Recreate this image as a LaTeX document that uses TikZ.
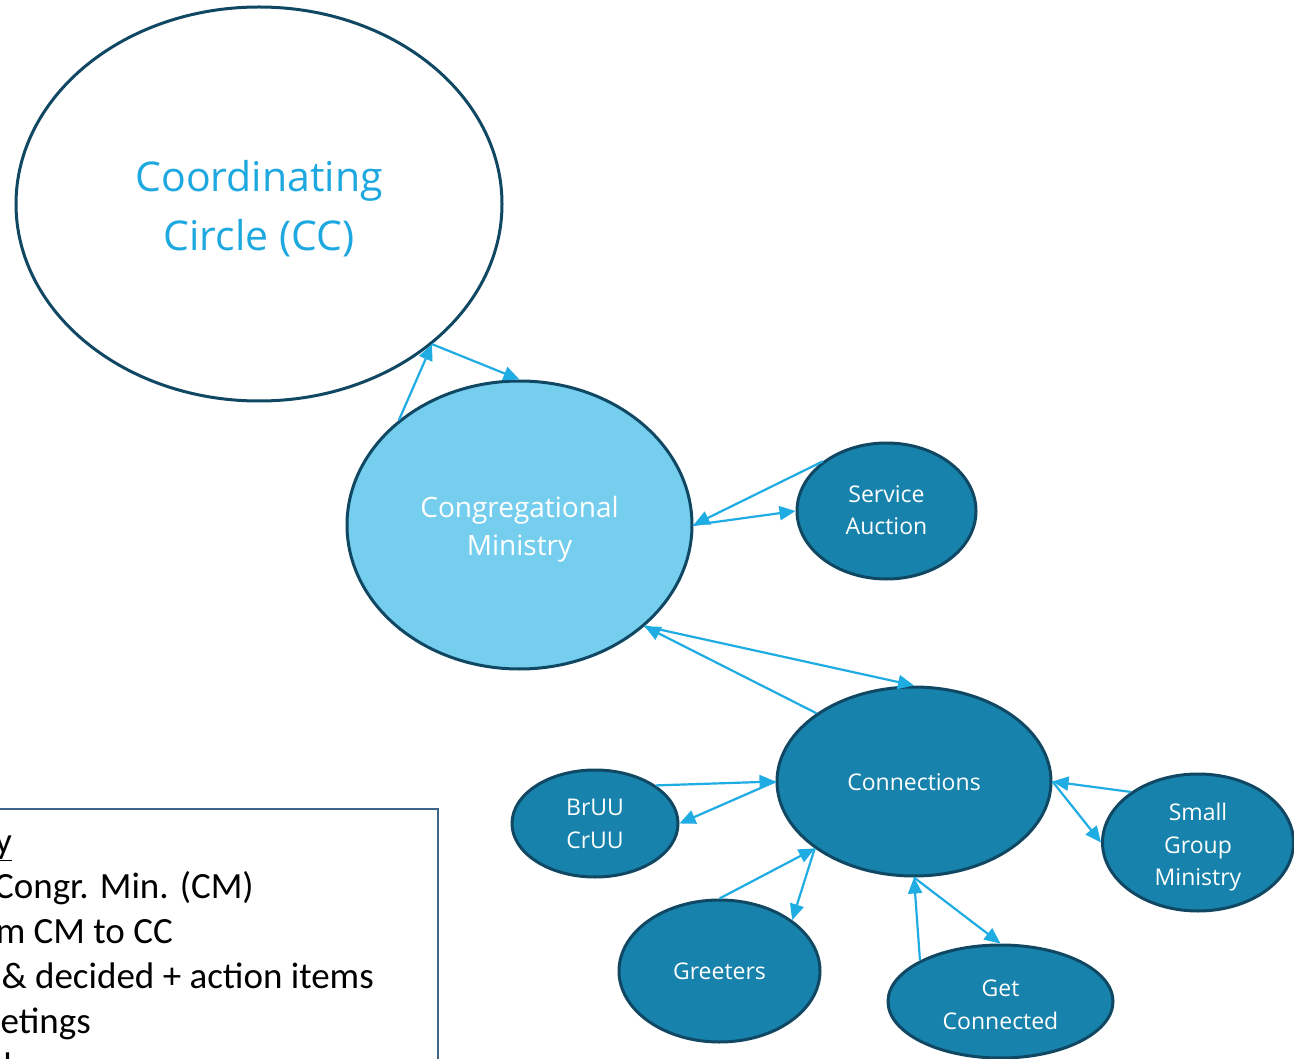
\documentclass[tikz,border=0pt]{standalone}
\usepackage{fontspec}
\setmainfont{Open Sans}
\newfontfamily\boxfont{Carlito}
\usetikzlibrary{shapes.geometric,arrows.meta}
\definecolor{edgec}{RGB}{16,72,100}
\definecolor{lightfill}{RGB}{117,206,238}
\definecolor{darkfill}{RGB}{23,130,172}
\definecolor{arrc}{RGB}{30,172,227}
\definecolor{cctext}{RGB}{30,168,224}
\definecolor{boxc}{RGB}{63,100,133}
% lower the text inside a node by half of #1 (by trimming the box depth)
\newcommand\lowtxt[2]{\raisebox{0pt}[\height][\dimexpr\depth-#1\relax]{\begin{tabular}{@{}c@{}}#2\end{tabular}}}
\begin{document}
\begin{tikzpicture}[x=1pt,y=-1pt,
  bub/.style={ellipse,draw=edgec,line width=3pt,inner sep=0pt,align=center,text=white,fill=darkfill,font=\fontsize{23}{32.5}\selectfont},
  arr/.style={draw=arrc,line width=2.2pt,-{Triangle[length=16pt,width=14pt]}},
  boxtxt/.style={inner sep=0pt,anchor=base east,font=\boxfont\fontsize{37}{44}\selectfont,text=black}]
\useasboundingbox (0,0) rectangle (1294,1059);
\clip (0,0) rectangle (1294,1059);
\fill[white] (0,0) rectangle (1294,1059);

% legend box (cut off by the page)
\draw[boxc,line width=2pt] (-20,809) rectangle (438,1100);
\node[boxtxt] (l1) at (12,853) {\underline{y}};
\node[boxtxt] (l2) at (254,898) {Congr. Min. (CM)};
\node[boxtxt] (l3) at (173,943) {m CM to CC};
\node[boxtxt] (l4) at (374,988) {\& decided + action items};
\node[boxtxt] (l5) at (91,1033) {etings};
\node[boxtxt] (l6) at (12,1078) {d};

% nodes
\node[bub,fill=white,text=cctext,minimum width=486pt,minimum height=394pt,font=\fontsize{41}{59}\selectfont] (CC) at (259,204) {\lowtxt{10pt}{Coordinating\\Circle (CC)}};
\node[bub,fill=lightfill,minimum width=345pt,minimum height=288pt,font=\fontsize{28}{38}\selectfont] (CM) at (519.5,525) {\lowtxt{8pt}{Congregational\\Ministry}};
\node[bub,minimum width=179pt,minimum height=136pt] (SA) at (886.5,511) {\lowtxt{2pt}{Service\\Auction}};
\node[bub,minimum width=274pt,minimum height=189pt] (CO) at (914,781.5) {\lowtxt{4pt}{Connections}};
\node[bub,minimum width=166pt,minimum height=107pt] (BR) at (595,823.5) {\lowtxt{4pt}{BrUU\\CrUU}};
\node[bub,minimum width=191pt,minimum height=137pt] (SG) at (1198,842.5) {\lowtxt{8pt}{Small\\Group\\Ministry}};
\node[bub,minimum width=201pt,minimum height=142pt] (GR) at (719.5,971) {\lowtxt{4pt}{Greeters}};
\node[bub,minimum width=225pt,minimum height=113pt] (GC) at (1000.5,1001.5) {\lowtxt{10pt}{Get\\Connected}};

% connectors
\draw[arr] (CM.139.9) -- (CC.-39.3);
\draw[arr] (CC.-39.3) -- (CM.90.6);
\draw[arr] (SA.142) -- (CM.0);
\draw[arr] (CM.0) -- (SA.180);
\draw[arr] (CO.145.7) -- (CM.-39.8);
\draw[arr] (CM.-39.8) -- (CO.90.6);
\draw[arr] (BR.32.9) -- (CO.180);
\draw[arr] (CO.180) -- (BR.0);
\draw[arr] (GR.90) -- (CO.214.7);
\draw[arr] (CO.214.7) -- (GR.35.9);
\draw[arr] (SG.143.9) -- (CO.0);
\draw[arr] (CO.0) -- (SG.180);
\draw[arr] (GC.153.3) -- (CO.270);
\draw[arr] (CO.270) -- (GC.90);
\end{tikzpicture}
\end{document}
